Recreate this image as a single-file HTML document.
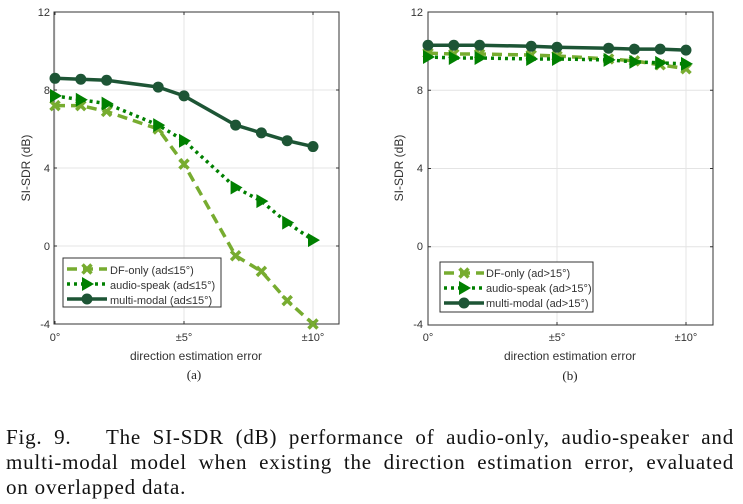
<!DOCTYPE html>
<html><head><meta charset="utf-8"><style>
body{margin:0;background:#fff;width:743px;height:504px;overflow:hidden}
svg{position:absolute;left:0;top:0}
.t{font-family:"Liberation Sans",sans-serif;font-size:11px;fill:#333}
.cap{position:absolute;left:6px;width:728px;font-family:"Liberation Serif",serif;font-size:21px;letter-spacing:0.8px;color:#111;text-align:justify;text-align-last:justify;white-space:nowrap;line-height:24px}
</style></head><body>
<svg id="s" width="743" height="504" xmlns="http://www.w3.org/2000/svg">
<g id="A"></g><g id="B"></g>
<g class="t">
<text x="50" y="16" text-anchor="end">12</text><text x="50" y="94" text-anchor="end">8</text><text x="50" y="172" text-anchor="end">4</text><text x="50" y="250" text-anchor="end">0</text><text x="50" y="328" text-anchor="end">-4</text>
<text x="55" y="341" text-anchor="middle">0°</text><text x="184" y="341" text-anchor="middle">±5°</text><text x="313" y="341" text-anchor="middle">±10°</text>
<text x="196" y="360" text-anchor="middle" font-size="12">direction estimation error</text>
<text x="30" y="168" text-anchor="middle" font-size="12" transform="rotate(-90 30 168)">SI-SDR (dB)</text>
<text x="423" y="16" text-anchor="end">12</text><text x="423" y="94" text-anchor="end">8</text><text x="423" y="172" text-anchor="end">4</text><text x="423" y="250" text-anchor="end">0</text><text x="423" y="328" text-anchor="end">-4</text>
<text x="428" y="341" text-anchor="middle">0°</text><text x="557" y="341" text-anchor="middle">±5°</text><text x="686" y="341" text-anchor="middle">±10°</text>
<text x="570" y="360" text-anchor="middle" font-size="12">direction estimation error</text>
<text x="403" y="168" text-anchor="middle" font-size="12" transform="rotate(-90 403 168)">SI-SDR (dB)</text>
<text x="110" y="274">DF-only (ad≤15°)</text><text x="110" y="289">audio-speak (ad≤15°)</text><text x="110" y="304">multi-modal (ad≤15°)</text>
<text x="486" y="277">DF-only (ad&gt;15°)</text><text x="486" y="292">audio-speak (ad&gt;15°)</text><text x="486" y="307">multi-modal (ad&gt;15°)</text>
</g>
<g font-family="Liberation Serif,serif" font-size="13" fill="#222"><text x="194" y="379" text-anchor="middle">(a)</text><text x="570" y="380" text-anchor="middle">(b)</text></g>
</svg>
<div class="cap" style="top:425px">Fig. 9.&nbsp;&nbsp; The SI-SDR (dB) performance of audio-only, audio-speaker and</div>
<div class="cap" style="top:450px">multi-modal model when existing the direction estimation error, evaluated</div>
<div class="cap" style="top:475px;text-align-last:left">on overlapped data.</div>
<script>
var NS="http://www.w3.org/2000/svg";
function el(g,n,a){var e=document.createElementNS(NS,n);for(var k in a)e.setAttribute(k,a[k]);g.appendChild(e);return e;}
var C1="#77ac30",C2="#008000",C3="#1d5535";
var xs=[0,1,2,4,5,7,8,9,10];
function plot(id,L,R,x0,top,bot,data,leg){
 var g=document.getElementById(id),u=(bot-top)/16,sx=25.8;
 function Y(v){return top+(12-v)*u} function X(v){return x0+v*sx}
 [0,5,10].forEach(function(v){el(g,'line',{x1:X(v),x2:X(v),y1:top,y2:bot,stroke:'#e4e4e4'})});
 [8,4,0].forEach(function(v){el(g,'line',{x1:L,x2:R,y1:Y(v),y2:Y(v),stroke:'#e4e4e4'})});
 el(g,'rect',{x:L,y:top,width:R-L,height:bot-top,fill:'none',stroke:'#333','stroke-width':1});
 [12,8,4,0,-4].forEach(function(v){el(g,'line',{x1:L,x2:L+3,y1:Y(v),y2:Y(v),stroke:'#333'});el(g,'line',{x1:R,x2:R-3,y1:Y(v),y2:Y(v),stroke:'#333'})});
 [0,5,10].forEach(function(v){el(g,'line',{x1:X(v),x2:X(v),y1:bot,y2:bot-3,stroke:'#333'});el(g,'line',{x1:X(v),x2:X(v),y1:top,y2:top+3,stroke:'#333'})});
 var st=[{c:C1,d:'10 6',w:3.5},{c:C2,d:'3 4',w:3.5},{c:C3,d:'',w:3.5}];
 data.forEach(function(ys,i){
  var p=xs.map(function(x,j){return X(x)+','+Y(ys[j])}).join(' ');
  el(g,'polyline',{points:p,fill:'none',stroke:st[i].c,'stroke-width':st[i].w,'stroke-dasharray':st[i].d});
  xs.forEach(function(x,j){mk(g,i,X(x),Y(ys[j]))});
 });
 var lx=leg[0],ly=leg[1],lw=leg[2],lh=leg[3];
 el(g,'rect',{x:lx,y:ly,width:lw,height:lh,fill:'#fff',stroke:'#333'});
 for(var i=0;i<3;i++){var yy=ly+11+i*15;
  el(g,'line',{x1:lx+4,x2:lx+44,y1:yy,y2:yy,stroke:st[i].c,'stroke-width':3.5,'stroke-dasharray':st[i].d});
  mk(g,i,lx+24,yy);}
 function mk(g,i,x,y){
  if(i==0){el(g,'path',{d:'M'+(x-4.5)+' '+(y-4.5)+'L'+(x+4.5)+' '+(y+4.5)+'M'+(x+4.5)+' '+(y-4.5)+'L'+(x-4.5)+' '+(y+4.5),stroke:C1,'stroke-width':3.5});}
  else if(i==1){el(g,'path',{d:'M'+(x-5)+' '+(y-7)+'L'+(x+7)+' '+y+'L'+(x-5)+' '+(y+7)+'Z',fill:C2});}
  else el(g,'circle',{cx:x,cy:y,r:5.5,fill:C3});
 }
}
plot('A',54,339,55,12,324,[[7.2,7.2,6.9,6.0,4.2,-0.5,-1.3,-2.8,-4],[7.7,7.5,7.3,6.2,5.4,3.0,2.3,1.2,0.3],[8.6,8.55,8.5,8.15,7.7,6.2,5.8,5.4,5.1]],[63,258,158,49]);
plot('B',428,713,428,12,325,[[9.9,9.85,9.85,9.8,9.75,9.6,9.5,9.3,9.1],[9.7,9.65,9.65,9.6,9.6,9.55,9.45,9.4,9.35],[10.3,10.3,10.3,10.25,10.2,10.15,10.1,10.1,10.05]],[440,262,153,50]);
</script>
</body></html>
